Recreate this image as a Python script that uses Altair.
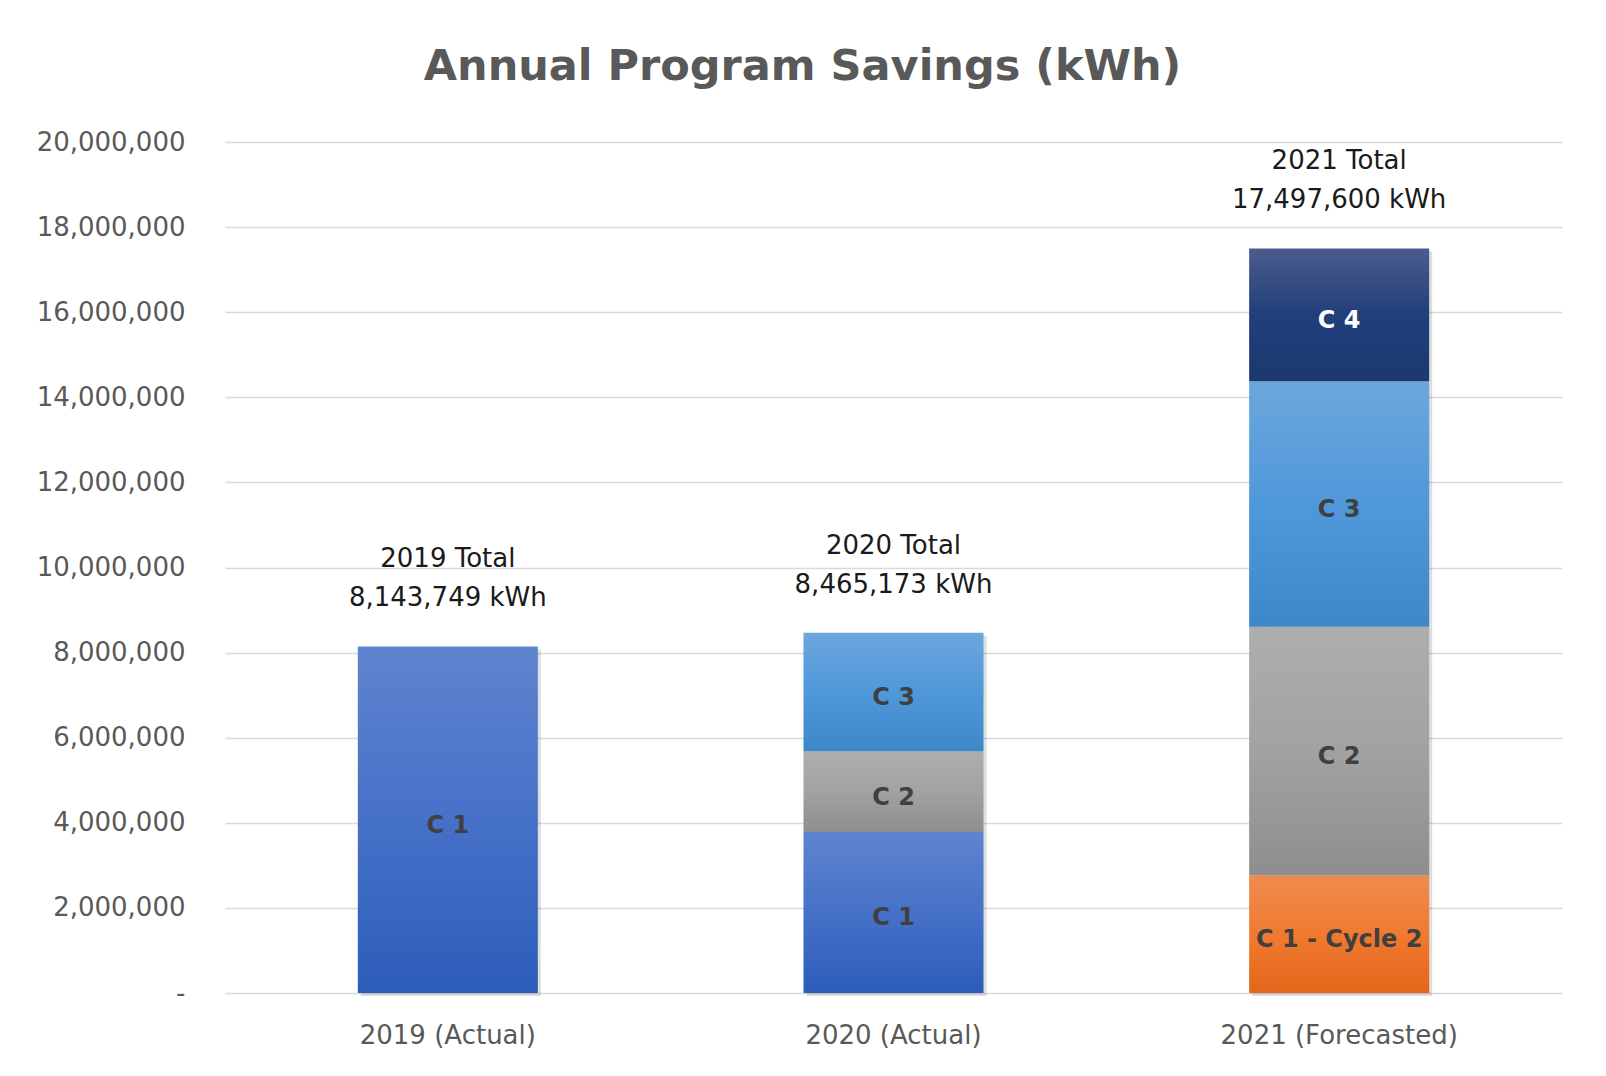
import altair as alt
import pandas as pd

# ---------------- data ----------------
years = ["2019 (Actual)", "2020 (Actual)", "2021 (Forecasted)"]
total_titles = ["2019 Total", "2020 Total", "2021 Total"]
totals = [8143749, 8465173, 17497600]

seg_year = ["2019 (Actual)",
            "2020 (Actual)", "2020 (Actual)", "2020 (Actual)",
            "2021 (Forecasted)", "2021 (Forecasted)", "2021 (Forecasted)", "2021 (Forecasted)"]
seg_name = ["C 1",
            "C 1", "C 2", "C 3",
            "C 1 - Cycle 2", "C 2", "C 3", "C 4"]
seg_value = [8143749,
             3785000, 1897000, 2783173,
             2770000, 5840000, 5770000, 3117600]
seg_order = ["C 1", "C 1 - Cycle 2", "C 2", "C 3", "C 4"]

y_ticks = [0, 2000000, 4000000, 6000000, 8000000, 10000000,
           12000000, 14000000, 16000000, 18000000, 20000000]

# ---------------- styles ----------------
grad_colors = {
    "C 1": ["#5F84CF", "#4671C8", "#2C5DB9"],
    "C 1 - Cycle 2": ["#EF8B50", "#F07A30", "#E3661A"],
    "C 2": ["#AEAEAE", "#A2A2A2", "#8E8E8E"],
    "C 3": ["#6CA7DD", "#4F98DA", "#3E87C8"],
    "C 4": ["#4A5C8C", "#213F7B", "#1B3870"],
}
FONT = "DejaVu Sans"
GRAY_TXT = "#595959"

seg_df = pd.DataFrame({
    "year": seg_year,
    "segment": seg_name,
    "value": seg_value,
    "order": [seg_order.index(s) for s in seg_name],
})
tot_df = pd.DataFrame({"year": years, "title": total_titles, "total": totals})
tot_df["label"] = tot_df["total"].map(lambda v: f"{v:,} kWh")

x_enc = alt.X(
    "year:N", sort=years,
    scale=alt.Scale(paddingInner=0.596, paddingOuter=0.298),
    axis=alt.Axis(title=None, labelAngle=0, domain=False, ticks=False, tickSize=0,
                  labelPadding=42, labelBaseline="middle", labelFont=FONT,
                  labelFontSize=26, labelColor=GRAY_TXT, grid=False, labelLimit=0),
)
y_scale = alt.Scale(domain=[0, 20000000], nice=False)
y_axis = alt.Axis(title=None, values=y_ticks, domain=False, ticks=False, tickSize=0,
                  labelPadding=40, labelFont=FONT, labelFontSize=26,
                  labelColor=GRAY_TXT, grid=True, gridColor="#D9D9D9", gridWidth=1.5,
                  labelExpr="datum.value == 0 ? '-' : format(datum.value, ',')")

base = alt.Chart(seg_df).transform_stack(
    stack="value", groupby=["year"], as_=["v0", "v1"],
    sort=[alt.SortField("order", order="ascending")],
).transform_calculate(mid="(datum.v0 + datum.v1) / 2")

# soft shadow under each full bar
shadow = alt.Chart(tot_df).mark_bar(color="#000000", opacity=0.13, xOffset=3, yOffset=3).encode(
    x=x_enc,
    y=alt.Y("total:Q", scale=y_scale, axis=y_axis),
)

layers = [shadow]
for name in seg_order:
    c = grad_colors[name]
    grad = alt.LinearGradient(
        gradient="linear", x1=0, x2=0, y1=0, y2=1,
        stops=[alt.GradientStop(color=c[0], offset=0),
               alt.GradientStop(color=c[1], offset=0.5),
               alt.GradientStop(color=c[2], offset=1)],
    )
    layers.append(
        base.transform_filter(alt.datum.segment == name)
        .mark_bar(color=grad)
        .encode(x=alt.X("year:N", sort=years),
                y=alt.Y("v0:Q", scale=y_scale),
                y2="v1:Q")
    )

seg_labels = base.mark_text(font=FONT, fontSize=24, fontWeight="bold", baseline="middle", dy=6).encode(
    x=alt.X("year:N", sort=years),
    y=alt.Y("mid:Q", scale=y_scale),
    text="segment:N",
    color=alt.condition(alt.datum.segment == "C 4", alt.value("#FFFFFF"), alt.value("#404040")),
)

tot_line2 = alt.Chart(tot_df).mark_text(font=FONT, fontSize=26, color="#1A1A1A",
                                        baseline="middle", dy=-48).encode(
    x=alt.X("year:N", sort=years), y=alt.Y("total:Q", scale=y_scale), text="label:N")
tot_line1 = alt.Chart(tot_df).mark_text(font=FONT, fontSize=26, color="#1A1A1A",
                                        baseline="middle", dy=-87).encode(
    x=alt.X("year:N", sort=years), y=alt.Y("total:Q", scale=y_scale), text="title:N")

layers += [seg_labels, tot_line2, tot_line1]

chart = alt.layer(*layers).properties(
    width=1337, height=851,
    autosize=alt.AutoSizeParams(type="none"),
    padding={"left": 217, "top": 134, "right": 30, "bottom": 60},
    background="#FFFFFF",
    title=alt.TitleParams(
        "Annual Program Savings (kWh)", font=FONT, fontSize=43, fontWeight="bold",
        color=GRAY_TXT, anchor="middle", dx=-91, offset=40,
    ),
).configure_view(stroke=None)

chart.save("out.html", embed_options={"renderer": "svg", "actions": False})
